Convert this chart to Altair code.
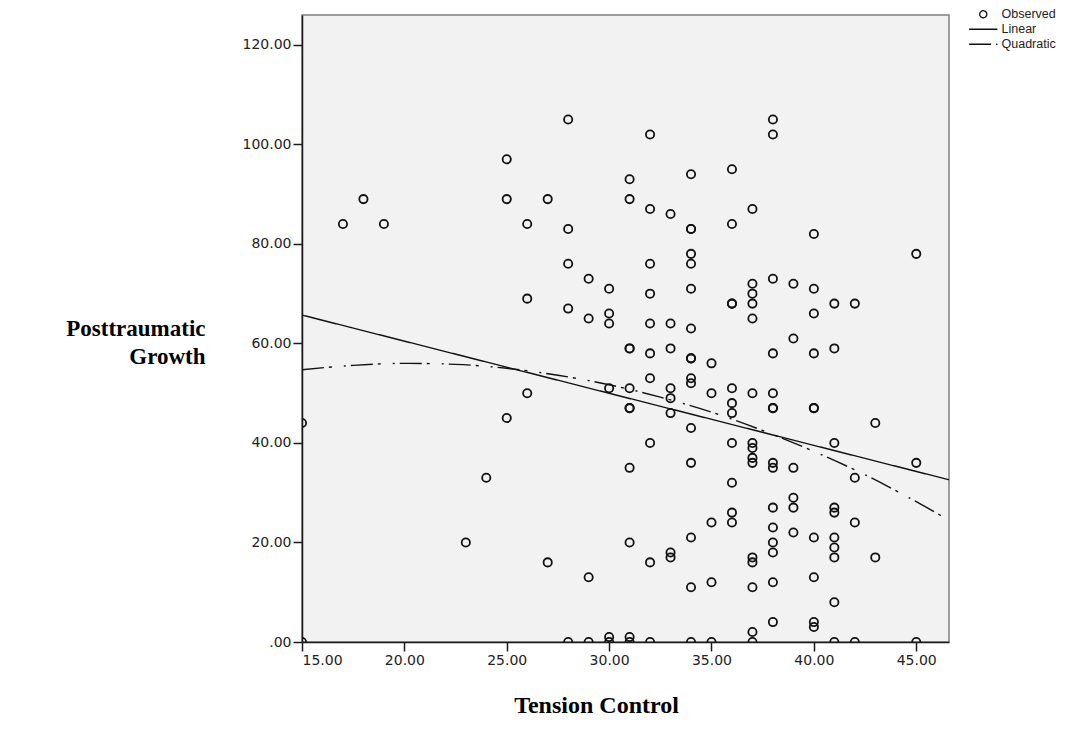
import altair as alt
import pandas as pd

# Tension Control level (x) and the Posttraumatic Growth values observed at it
levels = [15, 17, 18, 19, 23, 24, 25, 26, 27, 28, 29, 30, 31, 32, 33, 34,
          35, 36, 37, 38, 39, 40, 41, 42, 43, 45]
growth_groups = [
    [0, 44],
    [84],
    [89],
    [84],
    [20],
    [33],
    [97, 89, 45],
    [84, 69, 50],
    [89, 16],
    [105, 83, 76, 67, 0],
    [73, 65, 13, 0],
    [71, 66, 64, 51, 1, 0],
    [93, 89, 59, 59, 51, 47, 47, 35, 20, 1, 0],
    [102, 87, 76, 70, 64, 58, 53, 40, 16, 0],
    [86, 64, 59, 51, 49, 46, 18, 17],
    [94, 83, 83, 78, 76, 71, 63, 57, 57, 53, 52, 43, 36, 21, 11, 0],
    [56, 50, 24, 12, 0],
    [95, 84, 68, 68, 51, 48, 46, 40, 32, 26, 24],
    [87, 72, 70, 68, 65, 50, 40, 39, 37, 36, 17, 16, 11, 2, 0],
    [105, 102, 73, 58, 50, 47, 47, 36, 35, 27, 23, 20, 18, 12, 4],
    [72, 61, 35, 29, 27, 22],
    [82, 71, 66, 58, 47, 47, 21, 13, 4, 3],
    [68, 59, 40, 27, 26, 21, 19, 17, 8, 0],
    [68, 33, 24, 0],
    [44, 17],
    [78, 36, 0],
]

# Fit lines
linear_x = [15, 46.6]
linear_y = [65.7, 32.6]
quad_x = [15, 17.5, 20, 22.5, 25, 27.5, 30, 32.5, 35, 37.5, 40, 42.5, 45, 46.6]
quad_y = [54.7, 55.6, 56.0, 55.8, 55.0, 53.6, 51.7, 49.2, 46.2, 42.5, 38.3, 33.6, 28.2, 24.5]

x_ticks = [15, 20, 25, 30, 35, 40, 45]
y_ticks = [0, 20, 40, 60, 80, 100, 120]
series_names = ["Observed", "Linear", "Quadratic"]

rows = []
for lv, grp in zip(levels, growth_groups):
    for g in grp:
        rows.append({"tc": lv, "ptg": g, "series": "Observed"})
points_df = pd.DataFrame(rows)

line_rows = []
for xv, yv in zip(linear_x, linear_y):
    line_rows.append({"tc": xv, "ptg": yv, "series": "Linear"})
for xv, yv in zip(quad_x, quad_y):
    line_rows.append({"tc": xv, "ptg": yv, "series": "Quadratic"})
lines_df = pd.DataFrame(line_rows)

X_DOMAIN = [15, 46.6]
Y_DOMAIN = [0, 126]

shape_scale = alt.Scale(domain=series_names,
                        range=["circle", "M-4,0L4,0", "M-4,0L4,0"])
dash_scale = alt.Scale(domain=series_names,
                       range=[[1, 0], [1, 0], [22, 5, 3, 12, 2, 5]])


def make_legend():
    return alt.Legend(
        title=None, orient="none", legendX=675, legendY=-7, padding=0,
        symbolStrokeColor="#111", symbolFillColor="transparent",
        symbolStrokeWidth=1.3, symbolSize=50, labelFont="Liberation Sans",
        labelFontSize=12.5, labelColor="#222", labelOffset=12, rowPadding=2,
    )


x_enc = alt.X("tc:Q", scale=alt.Scale(domain=X_DOMAIN, nice=False, zero=False),
              axis=alt.Axis(values=x_ticks, format=".2f", tickSize=9, labelPadding=2,
                            grid=False, domainColor="#1a1a1a", domainWidth=1.5,
                            tickColor="#1a1a1a", tickWidth=1.5,
                            labelFont="DejaVu Sans", labelFontSize=14, labelColor="#222",
                            title="Tension Control", titleFont="Liberation Serif",
                            titleFontSize=24, titleFontWeight="bold", titleColor="black",
                            titleX=294, titleY=63, titleAlign="center",
                            titleBaseline="middle"))
y_enc = alt.Y("ptg:Q", scale=alt.Scale(domain=Y_DOMAIN, nice=False, zero=False),
              axis=alt.Axis(values=y_ticks,
                            labelExpr="datum.value == 0 ? '.00' : format(datum.value, '.2f')",
                            tickSize=9, labelPadding=2, grid=False,
                            domainColor="#1a1a1a", domainWidth=1.5,
                            tickColor="#1a1a1a", tickWidth=1.5,
                            labelFont="DejaVu Sans", labelFontSize=14, labelColor="#222",
                            title=["Posttraumatic", "Growth"], titleAngle=0,
                            titleAlign="right", titleBaseline="middle",
                            titleFont="Liberation Serif", titleFontSize=23,
                            titleFontWeight="bold", titleColor="black",
                            titleX=-97, titleY=313, titleLineHeight=28))

points = alt.Chart(points_df).mark_point(
    filled=False, size=68, strokeWidth=1.8, color="#111", opacity=1, clip=True
).encode(
    x=x_enc, y=y_enc,
    shape=alt.Shape("series:N", scale=shape_scale, legend=make_legend()),
)

fits = alt.Chart(lines_df).mark_line(
    color="#111", strokeWidth=1.4, clip=True, interpolate="monotone"
).encode(
    x=x_enc, y=y_enc,
    detail="series:N",
    strokeDash=alt.StrokeDash("series:N", scale=dash_scale, legend=make_legend()),
)

chart = alt.layer(points, fits).properties(
    width=647, height=627,
    autosize=alt.AutoSizeParams(type="none"),
    padding={"left": 294, "top": 7, "right": 120, "bottom": 89},
).configure_view(
    fill="#f2f2f2", stroke="#808080", strokeWidth=1.5
)

chart.save("out.html", embed_options={"renderer": "svg", "actions": False})
